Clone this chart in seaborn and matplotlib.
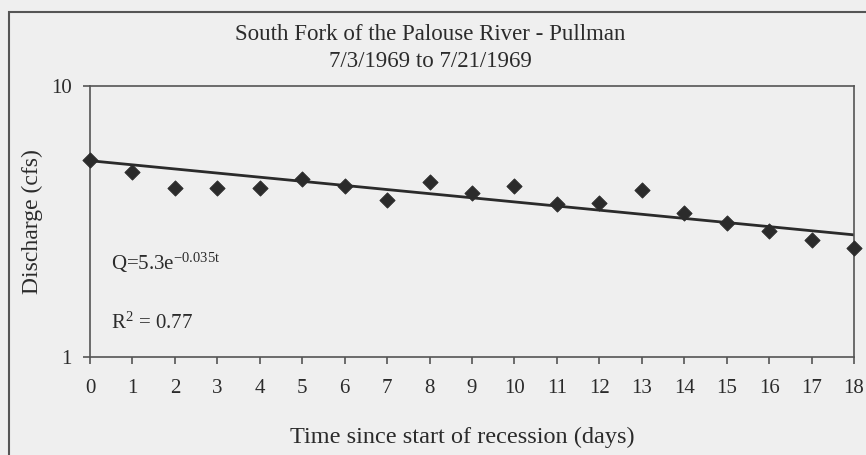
import numpy as np
import pandas as pd
import seaborn as sns
import matplotlib
matplotlib.use("Agg")
import matplotlib.pyplot as plt
from matplotlib.patches import Rectangle

days = [0, 1, 2, 3, 4, 5, 6, 7, 8, 9, 10, 11, 12, 13, 14, 15, 16, 17, 18]
discharge = [5.35, 4.83, 4.22, 4.22, 4.22, 4.55, 4.29, 3.81, 4.44, 4.04,
             4.29, 3.68, 3.71, 4.15, 3.41, 3.11, 2.91, 2.71, 2.52]

# fitted exponential recession Q = a * exp(b t)
fit_a = 5.3
fit_b = -0.035
fit_days = [0, 18]

title = "South Fork of the Palouse River - Pullman\n7/3/1969 to 7/21/1969"
eq_text = r"Q=5.3e$^{-0.035t}$"
r2_text = r"R$^2$ = 0.77"

sns.set_style("white")
plt.rcParams['font.family'] = ['Liberation Serif', 'DejaVu Serif']
plt.rcParams['mathtext.fontset'] = 'custom'
plt.rcParams['mathtext.rm'] = 'Liberation Serif'
plt.rcParams['mathtext.it'] = 'Liberation Serif'

bg = "#efefef"
ink = "#2b2b2b"

df = pd.DataFrame({"t": days, "Q": discharge})
fit = pd.DataFrame({"t": fit_days,
                    "Q": [fit_a * np.exp(fit_b * t) for t in fit_days]})

fig = plt.figure(figsize=(8.66, 4.55), dpi=100, facecolor=bg)
ax = fig.add_axes([0.1039, 0.2154, 0.8822, 0.5956])
ax.set_facecolor(bg)

sns.lineplot(data=fit, x="t", y="Q", ax=ax, color=ink, linewidth=2.0)
sns.scatterplot(data=df, x="t", y="Q", ax=ax, marker="D", s=60,
                color=ink, edgecolor=ink, zorder=3, clip_on=False)

ax.set_yscale("log")
ax.set_ylim(1, 10)
ax.set_xlim(0, 18)
ax.set_xticks(days)
ax.set_yticks([1, 10])
ax.set_yticklabels(["1", "10"])
ax.yaxis.set_minor_locator(matplotlib.ticker.NullLocator())
ax.tick_params(axis="both", direction="out", length=5, width=1.2,
               bottom=True, left=True,
               color="#555555", labelsize=15, labelcolor=ink)
ax.tick_params(axis="x", pad=11)
ax.tick_params(axis="y", pad=8)
for s in ax.spines.values():
    s.set_color("#555555")
    s.set_linewidth(1.2)

ax.set_xlabel("Time since start of recession (days)", fontsize=17.5,
              color=ink)
ax.set_ylabel("Discharge (cfs)", fontsize=17, color=ink)
ax.xaxis.set_label_coords(0.487, -0.258)
ax.yaxis.set_label_coords(-0.062, 0.5)

fig.text(0.497, 0.895, title, ha="center", va="center", fontsize=16.5,
         color=ink, linespacing=1.35)

ax.text(0.028, 0.32, eq_text, transform=ax.transAxes, fontsize=15,
        color=ink, va="baseline")
ax.text(0.028, 0.105, r2_text, transform=ax.transAxes, fontsize=15,
        color=ink, va="baseline")

# outer chart frame
fig.patches.append(Rectangle((9 / 866, -0.1), 1.2, 1 - 12 / 455 + 0.1,
                             transform=fig.transFigure, fill=False,
                             edgecolor="#555555", linewidth=1.5))

fig.savefig("out.png", dpi=100, facecolor=bg)
